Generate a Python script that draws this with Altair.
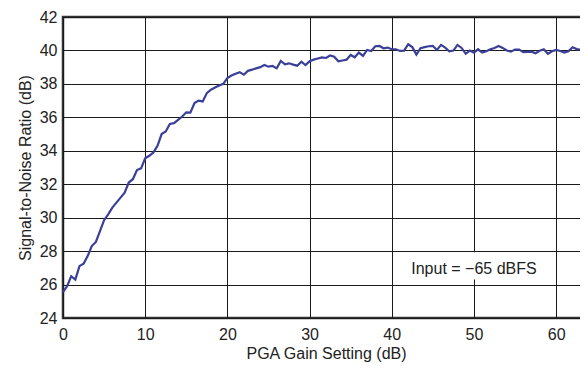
import altair as alt
import pandas as pd

gain_db = [i * 0.5 for i in range(129)]
snr_db = [
    25.55, 25.9, 26.5, 26.3, 27.1, 27.25, 27.7, 28.3, 28.55, 29.2,
    29.85, 30.2, 30.6, 30.9, 31.2, 31.5, 32.1, 32.3, 32.85, 32.95,
    33.55, 33.7, 33.9, 34.3, 35.0, 35.15, 35.6, 35.65, 35.85, 36.05,
    36.3, 36.28, 36.85, 37.0, 36.95, 37.45, 37.65, 37.78, 37.9, 38.0,
    38.35, 38.5, 38.6, 38.7, 38.55, 38.78, 38.85, 38.93, 39.0, 39.13,
    39.03, 39.07, 38.93, 39.37, 39.17, 39.23, 39.15, 39.09, 39.33, 39.13,
    39.35, 39.45, 39.52, 39.58, 39.55, 39.7, 39.62, 39.35, 39.4, 39.45,
    39.73, 39.59, 39.87, 39.67, 40.03, 39.97, 40.25, 40.27, 40.13, 40.17,
    40.07, 40.07, 39.97, 39.99, 40.37, 40.2, 39.75, 40.13, 40.2, 40.25,
    40.27, 40.03, 40.33, 40.17, 39.95, 39.99, 40.33, 40.15, 39.8, 39.99,
    39.87, 40.07, 39.87, 39.95, 40.07, 40.15, 40.27, 40.15, 40.0, 39.93,
    40.05, 40.05, 39.9, 39.92, 39.93, 39.83, 39.98, 40.07, 39.8, 39.95,
    40.03, 39.97, 39.87, 39.95, 40.19, 40.08, 40.05, 40.03, 40.03,
]

x_ticks = [0, 10, 20, 30, 40, 50, 60]
y_ticks = [24, 26, 28, 30, 32, 34, 36, 38, 40, 42]
x_domain = [0, 64]
y_domain = [24, 42]

note_text = ["Input = \u221265 dBFS"]
note_x = [50]
note_y = [26.95]
note_box_x = [42.5]
note_box_x2 = [57.5]
note_box_y = [26.3]
note_box_y2 = [27.93]

FONT = "Liberation Sans"
FS = 16
LINE_COLOR = "#3a3f98"

df = pd.DataFrame({"gain": gain_db, "snr": snr_db})
note_df = pd.DataFrame({"t": note_text, "gain": note_x, "snr": note_y})
box_df = pd.DataFrame({"gain": note_box_x, "gain2": note_box_x2, "snr": note_box_y, "snr2": note_box_y2})

x_scale = alt.Scale(domain=x_domain, nice=False)
y_scale = alt.Scale(domain=y_domain, nice=False)

x_axis = alt.Axis(
    values=x_ticks, title="PGA Gain Setting (dB)", grid=True, ticks=False,
    domain=False, labelPadding=8, titlePadding=3, labelOverlap=False,
    labelFlush=False,
)
y_axis = alt.Axis(
    values=y_ticks, title="Signal-to-Noise Ratio (dB)", grid=True, ticks=False,
    domain=False, labelPadding=6, titlePadding=6, labelOverlap=False,
    labelFlush=False,
)


def xe():
    return alt.X("gain:Q", scale=x_scale, axis=x_axis, title="PGA Gain Setting (dB)")


def ye():
    return alt.Y("snr:Q", scale=y_scale, axis=y_axis, title="Signal-to-Noise Ratio (dB)")


line = alt.Chart(df).mark_line(color=LINE_COLOR, strokeWidth=2.2).encode(x=xe(), y=ye())

box = alt.Chart(box_df).mark_rect(fill="white").encode(
    x=xe(), x2="gain2:Q", y=ye(), y2="snr2:Q",
)

note = alt.Chart(note_df).mark_text(
    font=FONT, fontSize=FS, color="#222222", align="center", baseline="middle"
).encode(x=xe(), y=ye(), text="t:N")

chart = (
    alt.layer(line, box, note)
    .properties(
        width=526,
        height=301,
        padding={"left": 55, "top": 9, "right": -9, "bottom": 44},
        autosize=alt.AutoSizeParams(type="none"),
    )
    .configure_view(stroke="#333333", strokeWidth=2.5)
    .configure_axis(
        labelFont=FONT, titleFont=FONT, labelFontSize=FS, titleFontSize=FS,
        labelColor="#222222", titleColor="#222222", titleFontWeight="normal",
        gridColor="#1a1a1a", gridWidth=1, gridOpacity=1,
    )
)

chart.save("out.html", embed_options={"renderer": "svg", "actions": False})
